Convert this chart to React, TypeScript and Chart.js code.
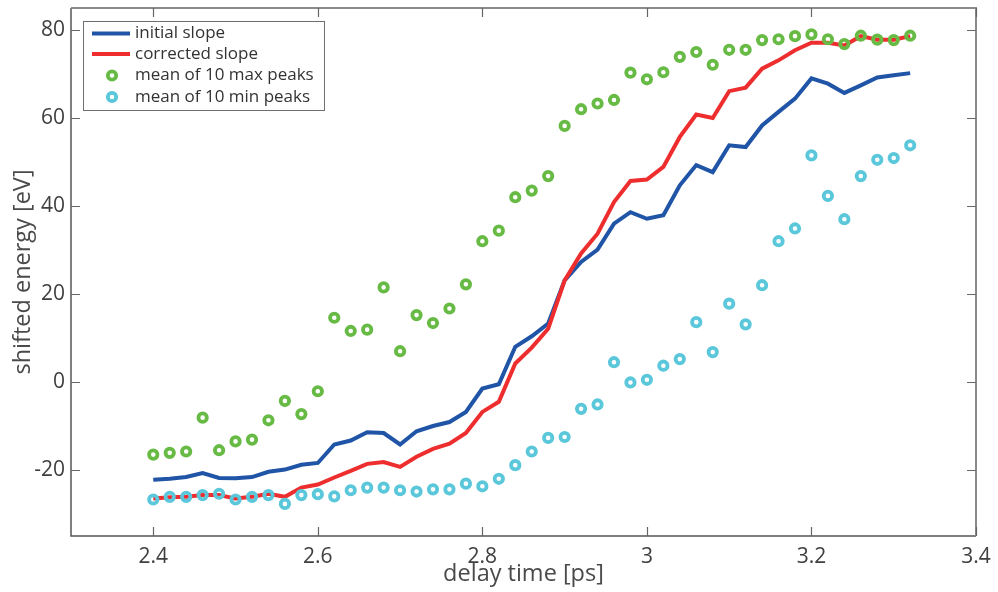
import { useEffect, useRef } from "react";
import { Chart, registerables } from "chart.js";

Chart.register(...registerables);

// delay times [ps]
const delayTimes = [
  2.4, 2.42, 2.44, 2.46, 2.48, 2.5, 2.52, 2.54, 2.56, 2.58,
  2.6, 2.62, 2.64, 2.66, 2.68, 2.7, 2.72, 2.74, 2.76, 2.78,
  2.8, 2.82, 2.84, 2.86, 2.88, 2.9, 2.92, 2.94, 2.96, 2.98,
  3.0, 3.02, 3.04, 3.06, 3.08, 3.1, 3.12, 3.14, 3.16, 3.18,
  3.2, 3.22, 3.24, 3.26, 3.28, 3.3, 3.32,
];

// shifted energy [eV]
const initialSlope = [
  -22.2, -22.0, -21.6, -20.7, -21.8, -21.9, -21.6, -20.4, -19.9, -18.8,
  -18.4, -14.2, -13.3, -11.4, -11.6, -14.2, -11.2, -10.0, -9.1, -6.8,
  -1.5, -0.5, 8.0, 10.4, 13.3, 23.1, 27.3, 30.1, 36.0, 38.6,
  37.1, 37.9, 44.7, 49.3, 47.7, 53.8, 53.4, 58.3, 61.4, 64.4,
  69.0, 67.8, 65.7, 67.4, 69.2, 69.7, 70.2,
];

const correctedSlope = [
  -26.5, -26.2, -26.1, -25.7, -25.7, -26.5, -26.1, -25.4, -26.1, -24.0,
  -23.3, -21.7, -20.2, -18.6, -18.2, -19.3, -17.0, -15.2, -14.0, -11.6,
  -6.8, -4.5, 4.2, 7.8, 12.1, 23.1, 29.2, 33.7, 40.9, 45.7,
  46.0, 48.9, 55.7, 60.8, 60.0, 66.1, 66.9, 71.2, 73.1, 75.4,
  77.1, 77.1, 76.5, 78.6, 77.8, 77.8, 78.6,
];

const maxPeaksMean = [
  -16.5, -16.1, -15.8, -8.1, -15.5, -13.5, -13.1, -8.7, -4.3, -7.3,
  -2.1, 14.6, 11.6, 11.9, 21.5, 7.0, 15.2, 13.4, 16.7, 22.2,
  32.0, 34.4, 42.0, 43.5, 46.8, 58.2, 62.0, 63.3, 64.1, 70.3,
  68.8, 70.4, 73.9, 75.0, 72.1, 75.5, 75.5, 77.7, 77.9, 78.6,
  79.0, 77.9, 76.8, 78.7, 77.8, 77.7, 78.7,
];

const minPeaksMean = [
  -26.7, -26.1, -26.1, -25.7, -25.4, -26.7, -26.1, -25.7, -27.7, -25.7,
  -25.5, -26.0, -24.6, -24.0, -24.0, -24.6, -24.9, -24.4, -24.4, -23.1,
  -23.7, -22.0, -18.9, -15.8, -12.7, -12.5, -6.1, -5.1, 4.5, -0.1,
  0.5, 3.7, 5.2, 13.6, 6.8, 17.8, 13.1, 22.0, 32.0, 34.9,
  51.5, 42.3, 37.0, 46.8, 50.5, 50.9, 53.8,
];

const xTickValues = [2.4, 2.6, 2.8, 3.0, 3.2, 3.4];
const yTickValues = [-20, 0, 20, 40, 60, 80];

const seriesLabels = [
  "initial slope",
  "corrected slope",
  "mean of 10 max peaks",
  "mean of 10 min peaks",
];

const BLUE = "#1f54a6";
const RED = "#ee2e2e";
const GREEN = "#67bb45";
const CYAN = "#5ac7da";
const FONT = '"Open Sans", sans-serif';
const TEXT = "#404040";

const pairs = (ys: number[]) => ys.map((y, i) => ({ x: delayTimes[i], y }));

export default function App() {
  const ref = useRef<HTMLCanvasElement>(null);

  useEffect(() => {
    if (!ref.current) return;

    const framePlugin = {
      id: "frameAndLegend",
      afterDraw(chart: any) {
        const { ctx, chartArea } = chart;
        const { left, right, top, bottom } = chartArea;
        const xs = chart.scales.x;
        const ys = chart.scales.y;
        ctx.save();

        // axes box: darker left/bottom, lighter top/right
        ctx.lineWidth = 1.5;
        ctx.strokeStyle = "#555";
        ctx.beginPath();
        ctx.moveTo(left, top);
        ctx.lineTo(left, bottom);
        ctx.lineTo(right, bottom);
        ctx.stroke();
        ctx.strokeStyle = "#8a8a8a";
        ctx.lineWidth = 2;
        ctx.beginPath();
        ctx.moveTo(left, top);
        ctx.lineTo(right, top);
        ctx.lineTo(right, bottom);
        ctx.stroke();

        // inward tick marks on all four sides
        const tl = 9;
        ctx.lineWidth = 1.2;
        ctx.strokeStyle = "#666";
        ctx.beginPath();
        for (const v of xTickValues) {
          const px = Math.round(xs.getPixelForValue(v)) + 0.5;
          ctx.moveTo(px, bottom);
          ctx.lineTo(px, bottom - tl);
          ctx.moveTo(px, top);
          ctx.lineTo(px, top + tl);
        }
        for (const v of yTickValues) {
          const py = Math.round(ys.getPixelForValue(v)) + 0.5;
          ctx.moveTo(left, py);
          ctx.lineTo(left + tl, py);
          ctx.moveTo(right, py);
          ctx.lineTo(right - tl, py);
        }
        ctx.stroke();

        // axis titles
        ctx.fillStyle = "#4a4a4a";
        ctx.font = `23.5px ${FONT}`;
        ctx.textAlign = "center";
        ctx.textBaseline = "middle";
        ctx.fillText("delay time [ps]", (left + right) / 2, 574);
        ctx.save();
        ctx.translate(23, (top + bottom) / 2);
        ctx.rotate(-Math.PI / 2);
        ctx.fillText("shifted energy [eV]", 0, 0);
        ctx.restore();

        // legend
        const bx = 83.5, by = 21.5, bw = 241, bh = 89;
        ctx.fillStyle = "#fff";
        ctx.fillRect(bx, by, bw, bh);
        ctx.strokeStyle = "#6e6e6e";
        ctx.lineWidth = 1;
        ctx.strokeRect(bx, by, bw, bh);
        const rows = [33.5, 54, 75.5, 97];
        ctx.font = `17px ${FONT}`;
        ctx.textAlign = "left";
        ctx.textBaseline = "middle";
        seriesLabels.forEach((label, i) => {
          const cy = rows[i];
          if (i < 2) {
            ctx.strokeStyle = i === 0 ? BLUE : RED;
            ctx.lineWidth = 4;
            ctx.beginPath();
            ctx.moveTo(92, cy);
            ctx.lineTo(130, cy);
            ctx.stroke();
          } else {
            ctx.strokeStyle = i === 2 ? GREEN : CYAN;
            ctx.lineWidth = 3.8;
            ctx.beginPath();
            ctx.arc(112, cy, 4.2, 0, Math.PI * 2);
            ctx.stroke();
          }
          ctx.fillStyle = "#333";
          ctx.fillText(label, 135, cy);
        });

        ctx.restore();
      },
    };

    const markerStyle = (color: string) => ({
      showLine: false,
      borderColor: color,
      backgroundColor: "rgba(0,0,0,0)",
      pointBorderColor: color,
      pointBackgroundColor: "rgba(0,0,0,0)",
      pointRadius: 4.2,
      pointBorderWidth: 3.8,
      pointHoverRadius: 4.2,
      order: 0,
    });

    const chart = new Chart(ref.current, {
      type: "line",
      data: {
        datasets: [
          {
            label: seriesLabels[0],
            data: pairs(initialSlope),
            borderColor: BLUE,
            borderWidth: 4,
            pointRadius: 0,
            fill: false,
            order: 2,
          },
          {
            label: seriesLabels[1],
            data: pairs(correctedSlope),
            borderColor: RED,
            borderWidth: 4,
            pointRadius: 0,
            fill: false,
            order: 1,
          },
          { label: seriesLabels[2], data: pairs(maxPeaksMean), ...markerStyle(GREEN) },
          { label: seriesLabels[3], data: pairs(minPeaksMean), ...markerStyle(CYAN) },
        ],
      },
      options: {
        responsive: false,
        animation: false,
        layout: { padding: { left: 0, right: 22, top: 7, bottom: 0 } },
        plugins: {
          legend: { display: false },
          tooltip: { enabled: false },
        },
        scales: {
          x: {
            type: "linear",
            min: 2.3,
            max: 3.4,
            grid: { display: false, drawTicks: false },
            border: { display: false },
            afterBuildTicks: (s: any) => {
              s.ticks = xTickValues.map((value) => ({ value }));
            },
            afterFit: (s: any) => {
              s.height = 56;
              s.paddingLeft = 0;
              s.paddingRight = 0;
            },
            ticks: {
              autoSkip: false,
              maxRotation: 0,
              padding: 8,
              color: TEXT,
              font: { family: FONT, size: 21 },
              callback: (v: any) => String(Number(Number(v).toFixed(1))),
            },
          },
          y: {
            type: "linear",
            min: -35,
            max: 85,
            grid: { display: false, drawTicks: false },
            border: { display: false },
            afterBuildTicks: (s: any) => {
              s.ticks = yTickValues.map((value) => ({ value }));
            },
            afterFit: (s: any) => {
              s.width = 71;
              s.paddingTop = 0;
              s.paddingBottom = 0;
            },
            ticks: {
              padding: 6,
              color: TEXT,
              font: { family: FONT, size: 21 },
              callback: (v: any) => String(v),
            },
          },
        },
      },
      plugins: [framePlugin],
    });

    return () => chart.destroy();
  }, []);

  return (
    <div
      style={{
        position: "absolute",
        left: 0,
        top: 0,
        width: 998,
        height: 592,
        background: "#fff",
      }}
    >
      <canvas ref={ref} width={998} height={592} style={{ width: 998, height: 592 }} />
    </div>
  );
}
